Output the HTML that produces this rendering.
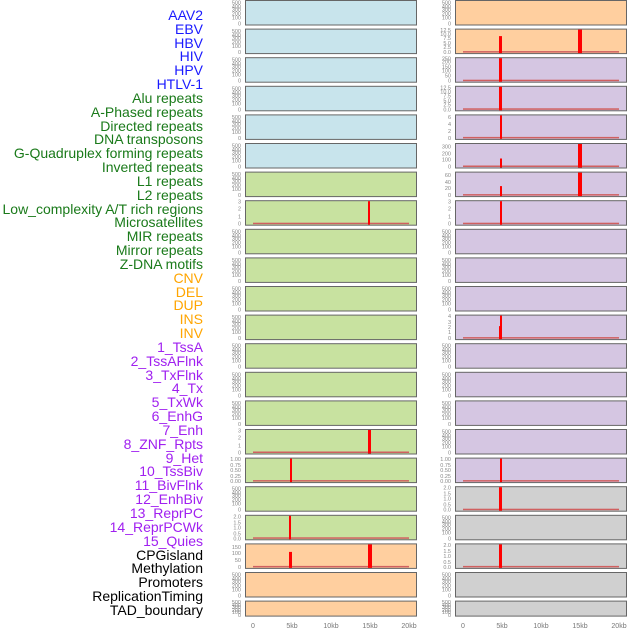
<!DOCTYPE html>
<html><head><meta charset="utf-8"><style>
html,body{margin:0;padding:0;background:#fff;width:630px;height:630px;overflow:hidden}
svg{display:block}
.l{font:14px "Liberation Sans",sans-serif;text-anchor:end}
.t{font:5.5px "Liberation Sans",sans-serif;fill:#888;text-anchor:end}
.x{font:7px "Liberation Sans",sans-serif;fill:#777;text-anchor:middle}
.b{fill:#c8e4ec}.o{fill:#ffcf9f}.g{fill:#c8e2a0}.p{fill:#d5c6e2}.y{fill:#d0d0d0}
rect.f{stroke:#666;stroke-width:1}
.bl{fill:#d06060}
</style></head><body>
<svg width="630" height="630" xmlns="http://www.w3.org/2000/svg">
<g class="l">
<text x="203" y="20" fill="#1a1aff">AAV2</text>
<text x="203" y="34" fill="#1a1aff">EBV</text>
<text x="203" y="48" fill="#1a1aff">HBV</text>
<text x="203" y="61" fill="#1a1aff">HIV</text>
<text x="203" y="75" fill="#1a1aff">HPV</text>
<text x="203" y="89" fill="#1a1aff">HTLV-1</text>
<text x="203" y="103" fill="#1a7a1a">Alu repeats</text>
<text x="203" y="117" fill="#1a7a1a">A-Phased repeats</text>
<text x="203" y="131" fill="#1a7a1a">Directed repeats</text>
<text x="203" y="144" fill="#1a7a1a">DNA transposons</text>
<text x="203" y="158" fill="#1a7a1a">G-Quadruplex forming repeats</text>
<text x="203" y="172" fill="#1a7a1a">Inverted repeats</text>
<text x="203" y="186" fill="#1a7a1a">L1 repeats</text>
<text x="203" y="200" fill="#1a7a1a">L2 repeats</text>
<text x="203" y="214" fill="#1a7a1a">Low_complexity A/T rich regions</text>
<text x="203" y="227" fill="#1a7a1a">Microsatellites</text>
<text x="203" y="241" fill="#1a7a1a">MIR repeats</text>
<text x="203" y="255" fill="#1a7a1a">Mirror repeats</text>
<text x="203" y="269" fill="#1a7a1a">Z-DNA motifs</text>
<text x="203" y="283" fill="#ffa500">CNV</text>
<text x="203" y="297" fill="#ffa500">DEL</text>
<text x="203" y="310" fill="#ffa500">DUP</text>
<text x="203" y="324" fill="#ffa500">INS</text>
<text x="203" y="338" fill="#ffa500">INV</text>
<text x="203" y="352" fill="#a020f0">1_TssA</text>
<text x="203" y="366" fill="#a020f0">2_TssAFlnk</text>
<text x="203" y="380" fill="#a020f0">3_TxFlnk</text>
<text x="203" y="393" fill="#a020f0">4_Tx</text>
<text x="203" y="407" fill="#a020f0">5_TxWk</text>
<text x="203" y="421" fill="#a020f0">6_EnhG</text>
<text x="203" y="435" fill="#a020f0">7_Enh</text>
<text x="203" y="449" fill="#a020f0">8_ZNF_Rpts</text>
<text x="203" y="463" fill="#a020f0">9_Het</text>
<text x="203" y="476" fill="#a020f0">10_TssBiv</text>
<text x="203" y="490" fill="#a020f0">11_BivFlnk</text>
<text x="203" y="504" fill="#a020f0">12_EnhBiv</text>
<text x="203" y="518" fill="#a020f0">13_ReprPC</text>
<text x="203" y="532" fill="#a020f0">14_ReprPCWk</text>
<text x="203" y="546" fill="#a020f0">15_Quies</text>
<text x="203" y="560" fill="#000">CPGisland</text>
<text x="203" y="573" fill="#000">Methylation</text>
<text x="203" y="587" fill="#000">Promoters</text>
<text x="203" y="601" fill="#000">ReplicationTiming</text>
<text x="203" y="615" fill="#000">TAD_boundary</text>
</g>

<!-- row 0 -->
<g transform="translate(0,0.5)">
<rect class="f b" x="245.5" y="0" width="171" height="24.5"/><rect class="f o" x="455.5" y="0" width="171" height="24.5"/>
<text class="t" x="241" y="4">500</text><text class="t" x="241" y="8">400</text><text class="t" x="241" y="11">300</text><text class="t" x="241" y="15">200</text><text class="t" x="241" y="19">100</text><text class="t" x="241" y="25">0</text>
<text class="t" x="451" y="4">500</text><text class="t" x="451" y="8">400</text><text class="t" x="451" y="11">300</text><text class="t" x="451" y="15">200</text><text class="t" x="451" y="19">100</text><text class="t" x="451" y="25">0</text>
</g>
<!-- row 1 -->
<g transform="translate(0,29.1)">
<rect class="f b" x="245.5" y="0" width="171" height="24.5"/><rect class="f o" x="455.5" y="0" width="171" height="24.5"/>
<text class="t" x="241" y="4">500</text><text class="t" x="241" y="8">400</text><text class="t" x="241" y="11">300</text><text class="t" x="241" y="15">200</text><text class="t" x="241" y="19">100</text><text class="t" x="241" y="25">0</text>
<text class="t" x="451" y="3">12.5</text><text class="t" x="451" y="7">10.0</text><text class="t" x="451" y="11">7.5</text><text class="t" x="451" y="16">5.0</text><text class="t" x="451" y="20">2.5</text><text class="t" x="451" y="25">0.0</text>
<rect class="bl" x="463" y="22" width="156" height="1.5"/>
<rect fill="red" x="499" y="7" width="3" height="17"/><rect fill="red" x="578" y="0.5" width="4" height="23.5"/>
</g>
<!-- row 2 -->
<g transform="translate(0,57.7)">
<rect class="f b" x="245.5" y="0" width="171" height="24.5"/><rect class="f p" x="455.5" y="0" width="171" height="24.5"/>
<text class="t" x="241" y="4">500</text><text class="t" x="241" y="8">400</text><text class="t" x="241" y="11">300</text><text class="t" x="241" y="15">200</text><text class="t" x="241" y="19">100</text><text class="t" x="241" y="25">0</text>
<text class="t" x="451" y="3">250</text><text class="t" x="451" y="6">200</text><text class="t" x="451" y="11">150</text><text class="t" x="451" y="15">100</text><text class="t" x="451" y="20">50</text><text class="t" x="451" y="25">0</text>
<rect class="bl" x="463" y="22" width="156" height="1.5"/>
<rect fill="red" x="499" y="0.5" width="3" height="23.5"/>
</g>
<!-- row 3 -->
<g transform="translate(0,86.3)">
<rect class="f b" x="245.5" y="0" width="171" height="24.5"/><rect class="f p" x="455.5" y="0" width="171" height="24.5"/>
<text class="t" x="241" y="4">500</text><text class="t" x="241" y="8">400</text><text class="t" x="241" y="11">300</text><text class="t" x="241" y="15">200</text><text class="t" x="241" y="19">100</text><text class="t" x="241" y="25">0</text>
<text class="t" x="451" y="3">12.5</text><text class="t" x="451" y="7">10.0</text><text class="t" x="451" y="11">7.5</text><text class="t" x="451" y="16">5.0</text><text class="t" x="451" y="20">2.5</text><text class="t" x="451" y="25">0.0</text>
<rect class="bl" x="463" y="22" width="156" height="1.5"/>
<rect fill="red" x="499" y="0.5" width="3" height="23.5"/>
</g>
<!-- row 4 -->
<g transform="translate(0,114.9)">
<rect class="f b" x="245.5" y="0" width="171" height="24.5"/><rect class="f p" x="455.5" y="0" width="171" height="24.5"/>
<text class="t" x="241" y="4">500</text><text class="t" x="241" y="8">400</text><text class="t" x="241" y="11">300</text><text class="t" x="241" y="15">200</text><text class="t" x="241" y="19">100</text><text class="t" x="241" y="25">0</text>
<text class="t" x="451" y="4">6</text><text class="t" x="451" y="11">4</text><text class="t" x="451" y="18">2</text><text class="t" x="451" y="25">0</text>
<rect class="bl" x="463" y="22" width="156" height="1.5"/>
<rect fill="red" x="500" y="0.5" width="2" height="23.5"/>
</g>
<!-- row 5 -->
<g transform="translate(0,143.5)">
<rect class="f b" x="245.5" y="0" width="171" height="24.5"/><rect class="f p" x="455.5" y="0" width="171" height="24.5"/>
<text class="t" x="241" y="4">500</text><text class="t" x="241" y="8">400</text><text class="t" x="241" y="11">300</text><text class="t" x="241" y="15">200</text><text class="t" x="241" y="19">100</text><text class="t" x="241" y="25">0</text>
<text class="t" x="451" y="5">300</text><text class="t" x="451" y="12">200</text><text class="t" x="451" y="18">100</text><text class="t" x="451" y="25">0</text>
<rect class="bl" x="463" y="22" width="156" height="1.5"/>
<rect fill="red" x="500" y="15" width="2" height="9"/><rect fill="red" x="578" y="0.5" width="4" height="23.5"/>
</g>
<!-- row 6 -->
<g transform="translate(0,172.1)">
<rect class="f g" x="245.5" y="0" width="171" height="24.5"/><rect class="f p" x="455.5" y="0" width="171" height="24.5"/>
<text class="t" x="241" y="4">500</text><text class="t" x="241" y="8">400</text><text class="t" x="241" y="11">300</text><text class="t" x="241" y="15">200</text><text class="t" x="241" y="19">100</text><text class="t" x="241" y="25">0</text>
<text class="t" x="451" y="5">60</text><text class="t" x="451" y="12">40</text><text class="t" x="451" y="18">20</text><text class="t" x="451" y="25">0</text>
<rect class="bl" x="463" y="22" width="156" height="1.5"/>
<rect fill="red" x="500" y="14" width="2" height="10"/><rect fill="red" x="578" y="0.5" width="4" height="23.5"/>
</g>
<!-- row 7 -->
<g transform="translate(0,200.7)">
<rect class="f g" x="245.5" y="0" width="171" height="24.5"/><rect class="f p" x="455.5" y="0" width="171" height="24.5"/>
<text class="t" x="241" y="3">3</text><text class="t" x="241" y="10">2</text><text class="t" x="241" y="18">1</text><text class="t" x="241" y="25">0</text>
<text class="t" x="451" y="3">3</text><text class="t" x="451" y="10">2</text><text class="t" x="451" y="18">1</text><text class="t" x="451" y="25">0</text>
<rect class="bl" x="253" y="22" width="156" height="1.5"/><rect class="bl" x="463" y="22" width="156" height="1.5"/>
<rect fill="red" x="368" y="0.5" width="2" height="23.5"/><rect fill="red" x="500" y="0.5" width="2" height="23.5"/>
</g>
<!-- rows 8-10 empty -->
<g transform="translate(0,229.3)">
<rect class="f g" x="245.5" y="0" width="171" height="24.5"/><rect class="f p" x="455.5" y="0" width="171" height="24.5"/>
<text class="t" x="241" y="4">500</text><text class="t" x="241" y="8">400</text><text class="t" x="241" y="11">300</text><text class="t" x="241" y="15">200</text><text class="t" x="241" y="19">100</text><text class="t" x="241" y="25">0</text>
<text class="t" x="451" y="4">500</text><text class="t" x="451" y="8">400</text><text class="t" x="451" y="11">300</text><text class="t" x="451" y="15">200</text><text class="t" x="451" y="19">100</text><text class="t" x="451" y="25">0</text>
</g>
<g transform="translate(0,257.9)">
<rect class="f g" x="245.5" y="0" width="171" height="24.5"/><rect class="f p" x="455.5" y="0" width="171" height="24.5"/>
<text class="t" x="241" y="4">500</text><text class="t" x="241" y="8">400</text><text class="t" x="241" y="11">300</text><text class="t" x="241" y="15">200</text><text class="t" x="241" y="19">100</text><text class="t" x="241" y="25">0</text>
<text class="t" x="451" y="4">500</text><text class="t" x="451" y="8">400</text><text class="t" x="451" y="11">300</text><text class="t" x="451" y="15">200</text><text class="t" x="451" y="19">100</text><text class="t" x="451" y="25">0</text>
</g>
<g transform="translate(0,286.5)">
<rect class="f g" x="245.5" y="0" width="171" height="24.5"/><rect class="f p" x="455.5" y="0" width="171" height="24.5"/>
<text class="t" x="241" y="4">500</text><text class="t" x="241" y="8">400</text><text class="t" x="241" y="11">300</text><text class="t" x="241" y="15">200</text><text class="t" x="241" y="19">100</text><text class="t" x="241" y="25">0</text>
<text class="t" x="451" y="4">500</text><text class="t" x="451" y="8">400</text><text class="t" x="451" y="11">300</text><text class="t" x="451" y="15">200</text><text class="t" x="451" y="19">100</text><text class="t" x="451" y="25">0</text>
</g>
<!-- row 11 -->
<g transform="translate(0,315.1)">
<rect class="f g" x="245.5" y="0" width="171" height="24.5"/><rect class="f p" x="455.5" y="0" width="171" height="24.5"/>
<text class="t" x="241" y="4">500</text><text class="t" x="241" y="8">400</text><text class="t" x="241" y="11">300</text><text class="t" x="241" y="15">200</text><text class="t" x="241" y="19">100</text><text class="t" x="241" y="25">0</text>
<text class="t" x="451" y="3">4</text><text class="t" x="451" y="9">3</text><text class="t" x="451" y="14">2</text><text class="t" x="451" y="19">1</text><text class="t" x="451" y="25">0</text>
<rect class="bl" x="463" y="22" width="156" height="1.5"/>
<rect fill="red" x="500" y="0.5" width="2" height="23.5"/><rect fill="red" x="499" y="11" width="1.5" height="13"/>
</g>
<!-- rows 12-15 -->
<g transform="translate(0,343.7)">
<rect class="f g" x="245.5" y="0" width="171" height="24.5"/><rect class="f p" x="455.5" y="0" width="171" height="24.5"/>
<text class="t" x="241" y="4">500</text><text class="t" x="241" y="8">400</text><text class="t" x="241" y="11">300</text><text class="t" x="241" y="15">200</text><text class="t" x="241" y="19">100</text><text class="t" x="241" y="25">0</text>
<text class="t" x="451" y="4">500</text><text class="t" x="451" y="8">400</text><text class="t" x="451" y="11">300</text><text class="t" x="451" y="15">200</text><text class="t" x="451" y="19">100</text><text class="t" x="451" y="25">0</text>
</g>
<g transform="translate(0,372.3)">
<rect class="f g" x="245.5" y="0" width="171" height="24.5"/><rect class="f p" x="455.5" y="0" width="171" height="24.5"/>
<text class="t" x="241" y="4">500</text><text class="t" x="241" y="8">400</text><text class="t" x="241" y="11">300</text><text class="t" x="241" y="15">200</text><text class="t" x="241" y="19">100</text><text class="t" x="241" y="25">0</text>
<text class="t" x="451" y="4">500</text><text class="t" x="451" y="8">400</text><text class="t" x="451" y="11">300</text><text class="t" x="451" y="15">200</text><text class="t" x="451" y="19">100</text><text class="t" x="451" y="25">0</text>
</g>
<g transform="translate(0,400.9)">
<rect class="f g" x="245.5" y="0" width="171" height="24.5"/><rect class="f p" x="455.5" y="0" width="171" height="24.5"/>
<text class="t" x="241" y="4">500</text><text class="t" x="241" y="8">400</text><text class="t" x="241" y="11">300</text><text class="t" x="241" y="15">200</text><text class="t" x="241" y="19">100</text><text class="t" x="241" y="25">0</text>
<text class="t" x="451" y="4">500</text><text class="t" x="451" y="8">400</text><text class="t" x="451" y="11">300</text><text class="t" x="451" y="15">200</text><text class="t" x="451" y="19">100</text><text class="t" x="451" y="25">0</text>
</g>
<g transform="translate(0,429.5)">
<rect class="f g" x="245.5" y="0" width="171" height="24.5"/><rect class="f p" x="455.5" y="0" width="171" height="24.5"/>
<text class="t" x="241" y="3">3</text><text class="t" x="241" y="10">2</text><text class="t" x="241" y="18">1</text><text class="t" x="241" y="25">0</text>
<text class="t" x="451" y="4">500</text><text class="t" x="451" y="8">400</text><text class="t" x="451" y="11">300</text><text class="t" x="451" y="15">200</text><text class="t" x="451" y="19">100</text><text class="t" x="451" y="25">0</text>
<rect class="bl" x="253" y="22" width="156" height="1.5"/>
<rect fill="red" x="368" y="0.5" width="3" height="23.5"/>
</g>
<!-- row 16 -->
<g transform="translate(0,458.1)">
<rect class="f g" x="245.5" y="0" width="171" height="24.5"/><rect class="f p" x="455.5" y="0" width="171" height="24.5"/>
<text class="t" x="241" y="3">1.00</text><text class="t" x="241" y="9">0.75</text><text class="t" x="241" y="14">0.50</text><text class="t" x="241" y="20">0.25</text><text class="t" x="241" y="25">0.00</text>
<text class="t" x="451" y="3">1.00</text><text class="t" x="451" y="9">0.75</text><text class="t" x="451" y="14">0.50</text><text class="t" x="451" y="20">0.25</text><text class="t" x="451" y="25">0.00</text>
<rect class="bl" x="253" y="22" width="156" height="1.5"/><rect class="bl" x="463" y="22" width="156" height="1.5"/>
<rect fill="red" x="290" y="0.5" width="2" height="23.5"/><rect fill="red" x="500" y="0.5" width="2" height="23.5"/>
</g>
<!-- row 17 -->
<g transform="translate(0,486.7)">
<rect class="f g" x="245.5" y="0" width="171" height="24.5"/><rect class="f y" x="455.5" y="0" width="171" height="24.5"/>
<text class="t" x="241" y="4">500</text><text class="t" x="241" y="8">400</text><text class="t" x="241" y="11">300</text><text class="t" x="241" y="15">200</text><text class="t" x="241" y="19">100</text><text class="t" x="241" y="25">0</text>
<text class="t" x="451" y="3">2.0</text><text class="t" x="451" y="9">1.5</text><text class="t" x="451" y="14">1.0</text><text class="t" x="451" y="20">0.5</text><text class="t" x="451" y="25">0.0</text>
<rect class="bl" x="463" y="22" width="156" height="1.5"/>
<rect fill="red" x="499" y="0.5" width="3" height="23.5"/>
</g>
<!-- row 18 -->
<g transform="translate(0,515.3)">
<rect class="f g" x="245.5" y="0" width="171" height="24.5"/><rect class="f y" x="455.5" y="0" width="171" height="24.5"/>
<text class="t" x="241" y="3">2.0</text><text class="t" x="241" y="9">1.5</text><text class="t" x="241" y="14">1.0</text><text class="t" x="241" y="20">0.5</text><text class="t" x="241" y="25">0.0</text>
<text class="t" x="451" y="4">500</text><text class="t" x="451" y="8">400</text><text class="t" x="451" y="11">300</text><text class="t" x="451" y="15">200</text><text class="t" x="451" y="19">100</text><text class="t" x="451" y="25">0</text>
<rect class="bl" x="253" y="22" width="156" height="1.5"/>
<rect fill="red" x="289" y="0.5" width="2" height="23.5"/>
</g>
<!-- row 19 -->
<g transform="translate(0,543.9)">
<rect class="f o" x="245.5" y="0" width="171" height="24.5"/><rect class="f y" x="455.5" y="0" width="171" height="24.5"/>
<text class="t" x="241" y="5">150</text><text class="t" x="241" y="11">100</text><text class="t" x="241" y="18">50</text><text class="t" x="241" y="25">0</text>
<text class="t" x="451" y="3">2.0</text><text class="t" x="451" y="9">1.5</text><text class="t" x="451" y="14">1.0</text><text class="t" x="451" y="20">0.5</text><text class="t" x="451" y="25">0.0</text>
<rect class="bl" x="253" y="22" width="156" height="1.5"/><rect class="bl" x="463" y="22" width="156" height="1.5"/>
<rect fill="red" x="289" y="8" width="3" height="16"/><rect fill="red" x="368" y="0.5" width="4" height="23.5"/>
<rect fill="red" x="499" y="0.5" width="3" height="23.5"/>
</g>
<!-- row 20 -->
<g transform="translate(0,572.5)">
<rect class="f o" x="245.5" y="0" width="171" height="24.5"/><rect class="f y" x="455.5" y="0" width="171" height="24.5"/>
<text class="t" x="241" y="4">500</text><text class="t" x="241" y="8">400</text><text class="t" x="241" y="11">300</text><text class="t" x="241" y="15">200</text><text class="t" x="241" y="19">100</text><text class="t" x="241" y="25">0</text>
<text class="t" x="451" y="4">500</text><text class="t" x="451" y="8">400</text><text class="t" x="451" y="11">300</text><text class="t" x="451" y="15">200</text><text class="t" x="451" y="19">100</text><text class="t" x="451" y="25">0</text>
</g>
<!-- row 21 -->
<g transform="translate(0,601.1)">
<rect class="f o" x="245.5" y="0" width="171" height="15"/><rect class="f y" x="455.5" y="0" width="171" height="15"/>
<text class="t" x="241" y="3">500</text><text class="t" x="241" y="6">400</text><text class="t" x="241" y="8">300</text><text class="t" x="241" y="11">200</text><text class="t" x="241" y="13">100</text><text class="t" x="241" y="16">0</text>
<text class="t" x="451" y="3">500</text><text class="t" x="451" y="6">400</text><text class="t" x="451" y="8">300</text><text class="t" x="451" y="11">200</text><text class="t" x="451" y="13">100</text><text class="t" x="451" y="16">0</text>
</g>
<!-- x axis -->
<g class="x">
<text x="253" y="628">0</text><text x="292" y="628">5kb</text><text x="331" y="628">10kb</text><text x="370" y="628">15kb</text><text x="409" y="628">20kb</text>
<text x="463" y="628">0</text><text x="502" y="628">5kb</text><text x="541" y="628">10kb</text><text x="580" y="628">15kb</text><text x="619" y="628">20kb</text>
</g>
</svg>
</body></html>
